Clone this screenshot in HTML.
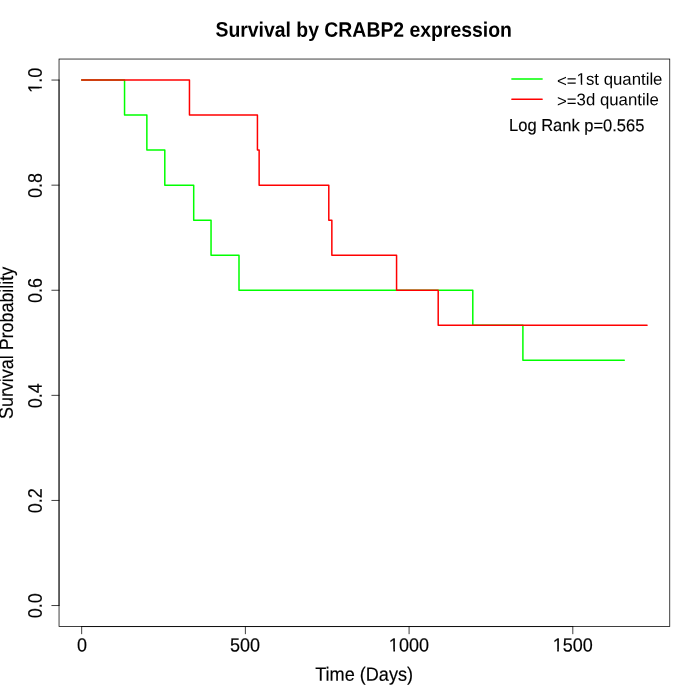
<!DOCTYPE html>
<html lang="en"><head><meta charset="utf-8"><title>Survival by CRABP2 expression</title>
<style>html,body{margin:0;padding:0;background:#fff;overflow:hidden}svg{display:block}text{font-family:"Liberation Sans",sans-serif;fill:#000;text-rendering:geometricPrecision;stroke:#000;stroke-width:0.15px}text.h{stroke:none}text.b{stroke:none}</style></head><body>
<svg width="700" height="700" viewBox="0 0 700 700">
<rect width="700" height="700" fill="#fff"/>
<defs><clipPath id="c4" clipPathUnits="userSpaceOnUse"><path clip-rule="evenodd" d="M-300 -60H400V40H-300ZM-19.652 -1.945H-15.517V2.5H-19.652ZM-13.886 -1.945H-9.891V2.5H-13.886Z"/></clipPath><clipPath id="c3" clipPathUnits="userSpaceOnUse"><path clip-rule="evenodd" d="M-300 -60H400V40H-300ZM-12.145 -1.945H-8.010V2.5H-12.145ZM-6.379 -1.945H-2.384V2.5H-6.379Z"/></clipPath><clipPath id="cl" clipPathUnits="userSpaceOnUse"><path clip-rule="evenodd" d="M-300 -60H400V40H-300ZM19.874 -1.855H23.799V2.5H19.874ZM25.323 -1.855H29.117V2.5H25.323Z"/></clipPath></defs>
<polyline points="81.66,80.06 124.55,80.06 124.55,115.09 146.86,115.09 146.86,150.12 164.80,150.12 164.80,185.16 193.70,185.16 193.70,220.19 211.05,220.19 211.05,255.22 239.00,255.22 239.00,290.25 472.80,290.25 472.80,325.28 522.90,325.28 522.90,360.32 624.25,360.32" stroke="#00ff00" fill="none" stroke-width="1.5" stroke-linecap="round" stroke-linejoin="round"/>
<polyline points="81.66,80.06 189.46,80.06 189.46,115.09 257.43,115.09 257.43,150.12 259.14,150.12 259.14,185.16 328.80,185.16 328.80,220.19 331.85,220.19 331.85,255.22 396.57,255.22 396.57,290.25 438.20,290.25 438.20,325.28 647.05,325.28" stroke="#ff0000" fill="none" stroke-width="1.5" stroke-linecap="round" stroke-linejoin="round"/>
<line x1="81.66" y1="626.56" x2="572.81" y2="626.56" stroke="#000" stroke-width="0.75" stroke-linecap="round" fill="none"/>
<line x1="81.66" y1="626.56" x2="81.66" y2="633.76" stroke="#000" stroke-width="0.75" stroke-linecap="round" fill="none"/>
<line x1="245.38" y1="626.56" x2="245.38" y2="633.76" stroke="#000" stroke-width="0.75" stroke-linecap="round" fill="none"/>
<line x1="409.09" y1="626.56" x2="409.09" y2="633.76" stroke="#000" stroke-width="0.75" stroke-linecap="round" fill="none"/>
<line x1="572.81" y1="626.56" x2="572.81" y2="633.76" stroke="#000" stroke-width="0.75" stroke-linecap="round" fill="none"/>
<line x1="59.04" y1="605.54" x2="59.04" y2="80.06" stroke="#000" stroke-width="0.75" stroke-linecap="round" fill="none"/>
<line x1="59.04" y1="605.54" x2="51.84" y2="605.54" stroke="#000" stroke-width="0.75" stroke-linecap="round" fill="none"/>
<line x1="59.04" y1="500.44" x2="51.84" y2="500.44" stroke="#000" stroke-width="0.75" stroke-linecap="round" fill="none"/>
<line x1="59.04" y1="395.35" x2="51.84" y2="395.35" stroke="#000" stroke-width="0.75" stroke-linecap="round" fill="none"/>
<line x1="59.04" y1="290.25" x2="51.84" y2="290.25" stroke="#000" stroke-width="0.75" stroke-linecap="round" fill="none"/>
<line x1="59.04" y1="185.16" x2="51.84" y2="185.16" stroke="#000" stroke-width="0.75" stroke-linecap="round" fill="none"/>
<line x1="59.04" y1="80.06" x2="51.84" y2="80.06" stroke="#000" stroke-width="0.75" stroke-linecap="round" fill="none"/>
<rect x="59.04" y="59.04" width="610.72" height="567.52" stroke="#000" stroke-width="0.75" stroke-linecap="round" fill="none"/>
<text transform="translate(81.96 651.55) rotate(0.03) scale(1 1.06)" font-size="18" text-anchor="middle">0</text>
<text transform="translate(245.08 651.55) rotate(0.03) scale(1 1.06)" font-size="18" text-anchor="middle">500</text>
<text transform="translate(408.89 651.55) rotate(0.03) scale(1 1.06)" font-size="18" text-anchor="middle" clip-path="url(#c4)">1000</text>
<text transform="translate(572.71 651.55) rotate(0.03) scale(1 1.06)" font-size="18" text-anchor="middle" clip-path="url(#c4)">1500</text>
<text transform="translate(41.70 605.84) rotate(-89.97) scale(1 1.09)" font-size="18" text-anchor="middle">0.0</text>
<text transform="translate(41.70 500.74) rotate(-89.97) scale(1 1.09)" font-size="18" text-anchor="middle">0.2</text>
<text transform="translate(41.70 395.65) rotate(-89.97) scale(1 1.09)" font-size="18" text-anchor="middle">0.4</text>
<text transform="translate(41.70 290.55) rotate(-89.97) scale(1 1.09)" font-size="18" text-anchor="middle">0.6</text>
<text transform="translate(41.70 185.46) rotate(-89.97) scale(1 1.09)" font-size="18" text-anchor="middle">0.8</text>
<text transform="translate(41.70 80.36) rotate(-89.97) scale(1 1.09)" font-size="18" text-anchor="middle" clip-path="url(#c3)">1.0</text>
<text transform="translate(364.10 680.75) rotate(0.03) scale(1.006 1.07)" font-size="18" text-anchor="middle">Time (Days)</text>
<text transform="translate(12.90 342.90) rotate(-89.97) scale(0.994 1.08)" font-size="18" text-anchor="middle">Survival Probability</text>
<text transform="translate(363.70 36.70) rotate(0.03) scale(1 1.08)" font-size="19.4" text-anchor="middle" font-weight="bold" class="b">Survival by CRABP2 expression</text>
<line x1="511.9" y1="79.1" x2="542.1" y2="79.1" stroke="#00ff00" stroke-width="1.5" stroke-linecap="round"/>
<line x1="511.9" y1="99.3" x2="542.1" y2="99.3" stroke="#ff0000" stroke-width="1.5" stroke-linecap="round"/>
<text transform="translate(557.00 84.70) rotate(0.03)" font-size="16.8" text-anchor="start" class="h" clip-path="url(#cl)"><tspan dy="1.7">&lt;=</tspan><tspan dy="-1.7">1st quantile</tspan></text>
<text transform="translate(557.00 105.20) rotate(0.03)" font-size="16.8" text-anchor="start" class="h"><tspan dy="1.5">&gt;=</tspan><tspan dy="-1.5">3d quantile</tspan></text>
<text transform="translate(509.10 131.10) rotate(0.03) scale(0.983 1.03)" font-size="16.8" text-anchor="start">Log Rank p=0.565</text>
</svg></body></html>
